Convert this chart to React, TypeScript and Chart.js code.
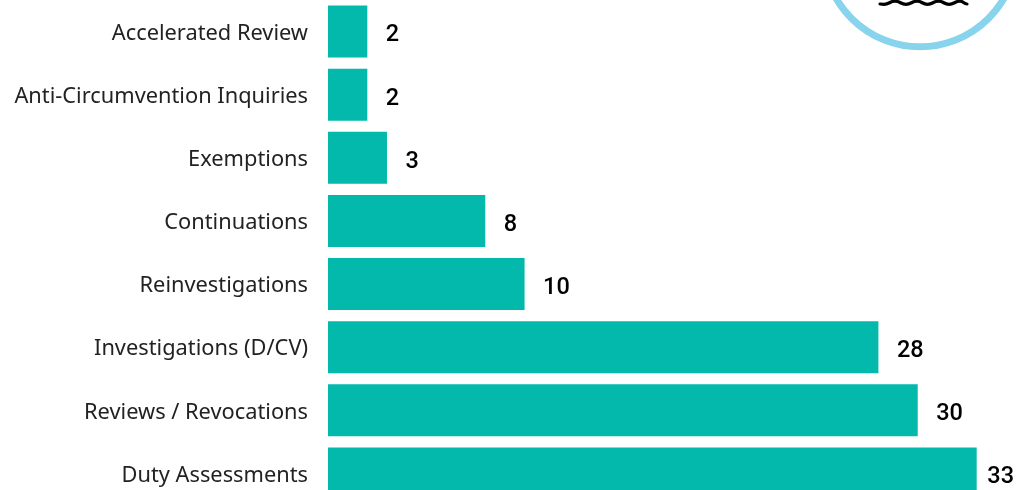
import React, { useEffect, useRef } from "react";
import { Chart, registerables } from "chart.js";

Chart.register(...registerables);

const categories = [
  "Accelerated Review",
  "Anti-Circumvention Inquiries",
  "Exemptions",
  "Continuations",
  "Reinvestigations",
  "Investigations (D/CV)",
  "Reviews / Revocations",
  "Duty Assessments",
];
const counts = [2, 2, 3, 8, 10, 28, 30, 33];
const barColor = "#02B9AB";
const ringColor = "#87D4EC";

const valueLabels = {
  id: "valueLabels",
  afterDatasetsDraw(chart: any) {
    const { ctx } = chart;
    const meta = chart.getDatasetMeta(0);
    ctx.save();
    ctx.font = "500 23.5px Roboto";
    ctx.fillStyle = "#000000";
    ctx.textAlign = "left";
    ctx.textBaseline = "middle";
    meta.data.forEach((bar: any, i: number) => {
      const text = String(counts[i]);
      const x = Math.min(bar.x + 18.5, chart.width - ctx.measureText(text).width - 2);
      ctx.fillText(text, x, bar.y + 4);
    });
    ctx.restore();
  },
};

const nudgeTicks = {
  id: "nudgeTicks",
  afterLayout(chart: any) {
    chart.scales.y.getLabelItems().forEach((item: any) => {
      item.options.translation[1] += 2;
    });
  },
};

const logo = {
  id: "logo",
  afterDraw(chart: any) {
    const { ctx } = chart;
    ctx.save();
    ctx.beginPath();
    ctx.arc(920, -50, 96.8, 0, Math.PI * 2);
    ctx.lineWidth = 7;
    ctx.strokeStyle = ringColor;
    ctx.stroke();
    const wave = [
      [884, 4.3],
      [895, 1.2],
      [906, 4.3],
      [917, 1.2],
      [927.5, 4.3],
      [938.5, 1.2],
      [949, 4.3],
      [960, 1.2],
      [967, 4],
    ];
    ctx.beginPath();
    ctx.moveTo(880, 4);
    ctx.lineTo(wave[0][0], wave[0][1]);
    for (let i = 1; i < wave.length; i++) {
      const [x0, y0] = wave[i - 1];
      const [x1, y1] = wave[i];
      const mid = (x0 + x1) / 2;
      ctx.bezierCurveTo(mid, y0, mid, y1, x1, y1);
    }
    ctx.lineWidth = 3.2;
    ctx.lineCap = "round";
    ctx.strokeStyle = "#000000";
    ctx.stroke();
    ctx.restore();
  },
};

export default function App() {
  const ref = useRef<HTMLCanvasElement>(null);
  useEffect(() => {
    document.body.style.margin = "0";
    const chart = new Chart(ref.current!, {
      type: "bar",
      data: {
        labels: categories,
        datasets: [
          {
            data: counts,
            backgroundColor: barColor,
            borderWidth: 0,
            categoryPercentage: 1,
            barPercentage: 52 / 63,
          },
        ],
      },
      options: {
        indexAxis: "y",
        animation: false,
        responsive: false,
        layout: { padding: 0 },
        plugins: { legend: { display: false }, tooltip: { enabled: false } },
        scales: {
          x: { display: false, min: 0, max: 35 },
          y: {
            afterFit(scale: any) {
              scale.width = 328;
              scale.paddingTop = 0;
              scale.paddingBottom = 0;
            },
            border: { display: false },
            grid: { display: false, drawTicks: false },
            ticks: {
              padding: 20,
              color: "#222222",
              autoSkip: false,
              font: { family: "'Noto Sans'", size: 21.8 },
            },
          },
        },
      },
      plugins: [valueLabels, nudgeTicks, logo],
    });
    return () => chart.destroy();
  }, []);
  return (
    <div style={{ width: 1016, height: 490, overflow: "hidden", position: "relative" }}>
      <canvas ref={ref} width={1016} height={505} style={{ display: "block" }} />
    </div>
  );
}
